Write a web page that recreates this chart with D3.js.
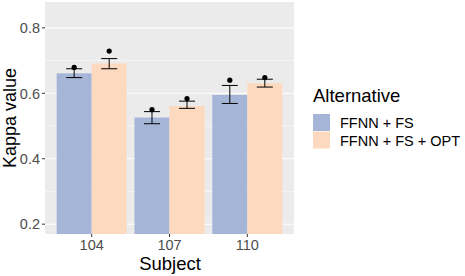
<!DOCTYPE html>
<html><head><meta charset="utf-8">
<script src="https://cdn.jsdelivr.net/npm/d3@7"></script>
<style>body{margin:0;background:#fff;} text{font-family:"Liberation Sans",Arial,sans-serif;}</style>
</head><body><svg id="c" width="465" height="276"></svg>
<script>
const subjects = ["104", "107", "110"];
const alternatives = ["FFNN + FS", "FFNN + FS + OPT"];
const meanFS = [0.661, 0.526, 0.595];
const meanOPT = [0.691, 0.561, 0.631];
const lowFS = [0.648, 0.507, 0.569];
const highFS = [0.675, 0.544, 0.624];
const lowOPT = [0.675, 0.554, 0.619];
const highOPT = [0.706, 0.576, 0.643];
const pointFS = [0.679, 0.550, 0.640];
const pointOPT = [0.729, 0.584, 0.648];
const yTicks = [0.2, 0.4, 0.6, 0.8];
const yMinor = [0.3, 0.5, 0.7];
const colors = ["#a5b5d7", "#fdd9bf"];

const rows = [];
subjects.forEach((s, i) => {
  rows.push({s, alt: alternatives[0], mean: meanFS[i], lo: lowFS[i], hi: highFS[i], pt: pointFS[i]});
  rows.push({s, alt: alternatives[1], mean: meanOPT[i], lo: lowOPT[i], hi: highOPT[i], pt: pointOPT[i]});
});

const svg = d3.select("#c");
const L = 45, R = 294, T = 2, B = 234;
const unit = (R - L) / 3.2;
const x = d3.scalePoint().domain(subjects).range([L + unit * 0.6, R - unit * 0.6]);
const cx = s => x(s);
const xs = d3.scaleBand().domain(alternatives).range([-0.45 * unit, 0.45 * unit]);
const y = d3.scaleLinear().domain([0.17, 0.879]).range([B, T]);

svg.append("rect").attr("x", L).attr("y", T).attr("width", R - L).attr("height", B - T).attr("fill", "#ebebeb");
const g = svg.append("g");
yMinor.forEach(v => g.append("line").attr("x1", L).attr("x2", R).attr("y1", y(v)).attr("y2", y(v)).attr("stroke", "#fff").attr("stroke-width", 0.5));
yTicks.forEach(v => g.append("line").attr("x1", L).attr("x2", R).attr("y1", y(v)).attr("y2", y(v)).attr("stroke", "#fff").attr("stroke-width", 1.1));

const defs = svg.append("defs");
defs.append("clipPath").attr("id", "clip").append("rect").attr("x", L).attr("y", T).attr("width", R - L).attr("height", B - T);
const pg = svg.append("g").attr("clip-path", "url(#clip)");

pg.selectAll("rect.bar").data(rows).enter().append("rect")
  .attr("x", d => cx(d.s) + xs(d.alt)).attr("width", xs.bandwidth())
  .attr("y", d => y(d.mean)).attr("height", d => y(0) - y(d.mean))
  .attr("fill", d => colors[alternatives.indexOf(d.alt)]);

const ew = 8;
rows.forEach(d => {
  const c = cx(d.s) + xs(d.alt) + xs.bandwidth() / 2;
  pg.append("line").attr("x1", c).attr("x2", c).attr("y1", y(d.lo)).attr("y2", y(d.hi)).attr("stroke", "#000").attr("stroke-width", 1);
  pg.append("line").attr("x1", c - ew).attr("x2", c + ew).attr("y1", y(d.lo)).attr("y2", y(d.lo)).attr("stroke", "#000").attr("stroke-width", 1);
  pg.append("line").attr("x1", c - ew).attr("x2", c + ew).attr("y1", y(d.hi)).attr("y2", y(d.hi)).attr("stroke", "#000").attr("stroke-width", 1);
  pg.append("circle").attr("cx", c).attr("cy", y(d.pt)).attr("r", 2.6).attr("fill", "#000");
});

// Axes
const ya = svg.append("g");
yTicks.forEach(v => {
  ya.append("line").attr("x1", L - 3).attr("x2", L).attr("y1", y(v)).attr("y2", y(v)).attr("stroke", "#333");
  ya.append("text").attr("x", L - 5).attr("y", y(v)).attr("dy", "0.36em").attr("text-anchor", "end")
    .attr("font-size", 14.5).attr("fill", "#4d4d4d").text(d3.format(".1f")(v));
});
subjects.forEach(s => {
  ya.append("line").attr("x1", cx(s)).attr("x2", cx(s)).attr("y1", B).attr("y2", B + 3).attr("stroke", "#333");
  ya.append("text").attr("x", cx(s)).attr("y", B + 15.5).attr("text-anchor", "middle")
    .attr("font-size", 14.5).attr("fill", "#4d4d4d").text(s);
});
svg.append("text").attr("x", 170).attr("y", 269.5).attr("text-anchor", "middle").attr("font-size", 18.5).attr("fill", "#000").text("Subject");
svg.append("text").attr("transform", `translate(15.5,${(T + B) / 2}) rotate(-90)`).attr("text-anchor", "middle").attr("font-size", 18).attr("fill", "#000").text("Kappa value");

// Legend
const lg = svg.append("g");
lg.append("text").attr("x", 313).attr("y", 101.5).attr("font-size", 18.5).text("Alternative");
alternatives.forEach((a, i) => {
  lg.append("rect").attr("x", 313).attr("y", 114 + i * 17.5).attr("width", 17).attr("height", 17).attr("fill", colors[i]);
  lg.append("text").attr("x", 340).attr("y", 122.8 + i * 17.5).attr("dy", "0.36em").attr("font-size", 14.5).attr("fill", "#000").text(a);
});
</script></body></html>
